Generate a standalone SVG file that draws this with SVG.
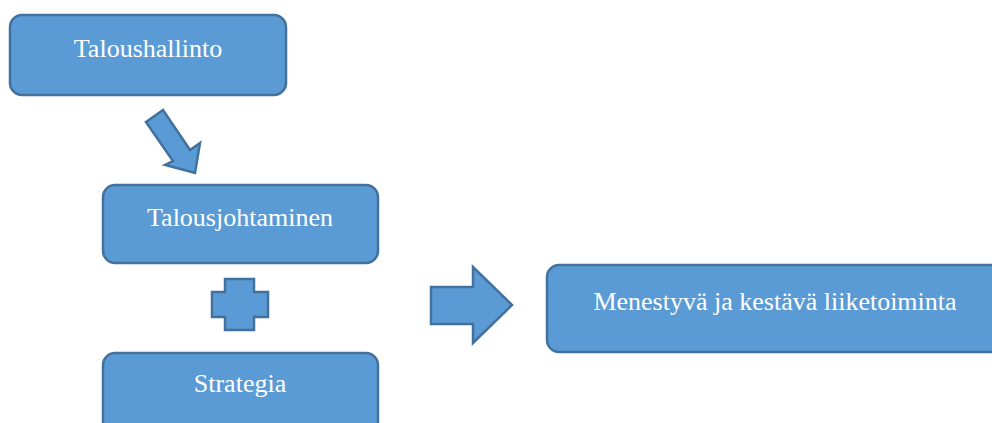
<svg xmlns="http://www.w3.org/2000/svg" width="992" height="423" viewBox="0 0 992 423">
<style>
.box{fill:#5B9BD5;stroke:#41719C;stroke-width:2.5}
.shape{fill:#5B9BD5;stroke:#41719C;stroke-width:2.5;stroke-linejoin:miter}
.lbl{fill:#FFFFFF;font-family:"Liberation Serif","Times New Roman",serif;font-size:26px;text-anchor:middle}
</style>
<rect width="992" height="423" fill="#FFFFFF"/>
<g id="taloushallinto">
<rect class="box" x="10" y="15" width="276" height="80" rx="12"/>
<text class="lbl" x="148" y="57">Taloushallinto</text>
</g>
<g id="talousjohtaminen">
<rect class="box" x="103" y="185" width="275" height="78" rx="12"/>
<text class="lbl" x="240" y="226">Talousjohtaminen</text>
</g>
<g id="strategia">
<rect class="box" x="103" y="353" width="275" height="90" rx="12"/>
<text class="lbl" x="240" y="392">Strategia</text>
</g>
<g id="liiketoiminta">
<rect class="box" x="547" y="265" width="470" height="87" rx="12"/>
<text class="lbl" x="775" y="310">Menestyvä ja kestävä liiketoiminta</text>
</g>
<g id="connectors">
<polygon class="shape" points="146,122 163,110 190,150 200,143 195,173 165,165 173,161"/>
<polygon class="shape" points="225,279 254,279 254,292 268,292 268,317 254,317 254,330 225,330 225,317 212,317 212,292 225,292"/>
<polygon class="shape" points="431,287 473,287 473,267 512,305 473,343 473,324 431,324"/>
</g>
</svg>
